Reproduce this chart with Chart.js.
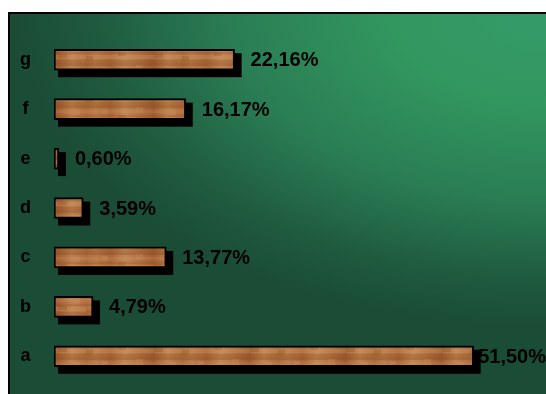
<!DOCTYPE html>
<html>
<head>
<meta charset="utf-8">
<script src="https://cdn.jsdelivr.net/npm/chart.js@4.4.1/dist/chart.umd.min.js"></script>
<style>
html,body{margin:0;padding:0;background:#fff;}
canvas{display:block;}
</style>
</head>
<body>
<canvas id="c" width="546" height="394"></canvas>
<script>
const categories = ['a', 'b', 'c', 'd', 'e', 'f', 'g'];
const values = [51.50, 4.79, 13.77, 3.59, 0.60, 16.17, 22.16];
const valueLabels = ['51,50%', '4,79%', '13,77%', '3,59%', '0,60%', '16,17%', '22,16%'];
const axisMax = 60;

function woodPattern() {
  const w = 96, h = 21;
  const pc = document.createElement('canvas');
  pc.width = w; pc.height = h;
  const p = pc.getContext('2d');
  const g = p.createLinearGradient(0, 0, w, 0);
  g.addColorStop(0, '#b87a48');
  g.addColorStop(0.15, '#a9673a');
  g.addColorStop(0.3, '#c08654');
  g.addColorStop(0.45, '#b27244');
  g.addColorStop(0.6, '#9f5d31');
  g.addColorStop(0.75, '#bd8250');
  g.addColorStop(0.9, '#ad6c3d');
  g.addColorStop(1, '#b87a48');
  p.fillStyle = g;
  p.fillRect(0, 0, w, h);
  const rows = [[0, 3, 'rgba(120,60,20,0.25)'], [5, 3, 'rgba(220,160,110,0.18)'], [10, 2, 'rgba(120,60,20,0.15)'], [13, 4, 'rgba(225,170,120,0.22)'], [18, 3, 'rgba(120,60,20,0.18)']];
  rows.forEach(r => { p.fillStyle = r[2]; p.fillRect(0, r[0], w, r[1]); });
  const blocks = [[6, 4, 6, 5], [22, 10, 8, 4], [40, 2, 7, 6], [58, 12, 9, 4], [74, 5, 6, 5], [86, 14, 7, 4]];
  blocks.forEach((b, i) => {
    p.fillStyle = i % 2 ? 'rgba(140,70,25,0.25)' : 'rgba(215,155,105,0.22)';
    p.fillRect(b[0], b[1], b[2], b[3]);
  });
  return p.createPattern(pc, 'repeat');
}

const bgPlugin = {
  id: 'bg',
  beforeDraw(chart) {
    const ctx = chart.ctx;
    ctx.save();
    ctx.fillStyle = '#ffffff';
    ctx.fillRect(0, 0, chart.width, chart.height);
    ctx.beginPath();
    ctx.rect(9, 13, chart.width, chart.height);
    ctx.fillStyle = '#1b4c36';
    ctx.fill();
    ctx.save();
    ctx.clip();
    ctx.translate(chart.width, 10);
    ctx.scale(1, 0.6);
    const rg = ctx.createRadialGradient(0, 0, 0, 0, 0, 530);
    rg.addColorStop(0, '#349b69');
    rg.addColorStop(0.3, '#32965f');
    rg.addColorStop(0.6, '#2a7d54');
    rg.addColorStop(0.85, '#1f5a3f');
    rg.addColorStop(1, '#1b4c36');
    ctx.fillStyle = rg;
    ctx.fillRect(-chart.width - 20, -40, chart.width + 40, chart.height * 2);
    ctx.restore();
    ctx.lineWidth = 2;
    ctx.strokeStyle = '#000000';
    ctx.beginPath();
    ctx.moveTo(9, chart.height + 5);
    ctx.lineTo(9, 13);
    ctx.lineTo(chart.width + 5, 13);
    ctx.stroke();
    ctx.restore();
  },
  beforeDatasetsDraw(chart) {
    const ctx = chart.ctx;
    const meta = chart.getDatasetMeta(0);
    ctx.save();
    ctx.fillStyle = '#000000';
    meta.data.forEach(bar => {
      const left = Math.min(bar.base, bar.x);
      const right = Math.max(bar.base, bar.x);
      const top = bar.y - bar.height / 2;
      const bottom = bar.y + bar.height / 2;
      ctx.fillRect(left + 4, top + 4, right - left + 3, bottom - top + 3);
    });
    ctx.restore();
  },
  afterDatasetsDraw(chart) {
    const ctx = chart.ctx;
    const meta = chart.getDatasetMeta(0);
    ctx.save();
    ctx.font = '700 20px Arial, "Liberation Sans", sans-serif';
    ctx.fillStyle = '#000000';
    ctx.textBaseline = 'middle';
    ctx.textAlign = 'left';
    meta.data.forEach((bar, i) => {
      const txt = valueLabels[i];
      const tw = ctx.measureText(txt).width;
      let x = bar.x + 16;
      if (x + tw > chart.width) x = chart.width - tw;
      ctx.fillText(txt, x, bar.y + 1);
    });
    ctx.restore();
  }
};

new Chart(document.getElementById('c'), {
  type: 'bar',
  data: {
    labels: categories,
    datasets: [{
      data: values,
      backgroundColor: woodPattern(),
      borderColor: '#000000',
      borderWidth: 2,
      borderSkipped: false,
      barThickness: 21
    }]
  },
  options: {
    indexAxis: 'y',
    responsive: false,
    animation: false,
    events: [],
    layout: { padding: { top: 35, bottom: 13, left: 0, right: 3 } },
    plugins: { legend: { display: false }, tooltip: { enabled: false } },
    scales: {
      x: { display: false, min: 0, max: axisMax },
      y: {
        reverse: true,
        grid: { display: false },
        border: { display: false },
        ticks: {
          color: '#000000',
          padding: 15,
          crossAlign: 'center',
          font: { family: 'Arial, "Liberation Sans", sans-serif', size: 18, weight: 700 }
        },
        afterFit(scale) {
          scale.width = 54;
          scale.paddingTop = 0;
          scale.paddingBottom = 0;
        }
      }
    }
  },
  plugins: [bgPlugin]
});
</script>
</body>
</html>
